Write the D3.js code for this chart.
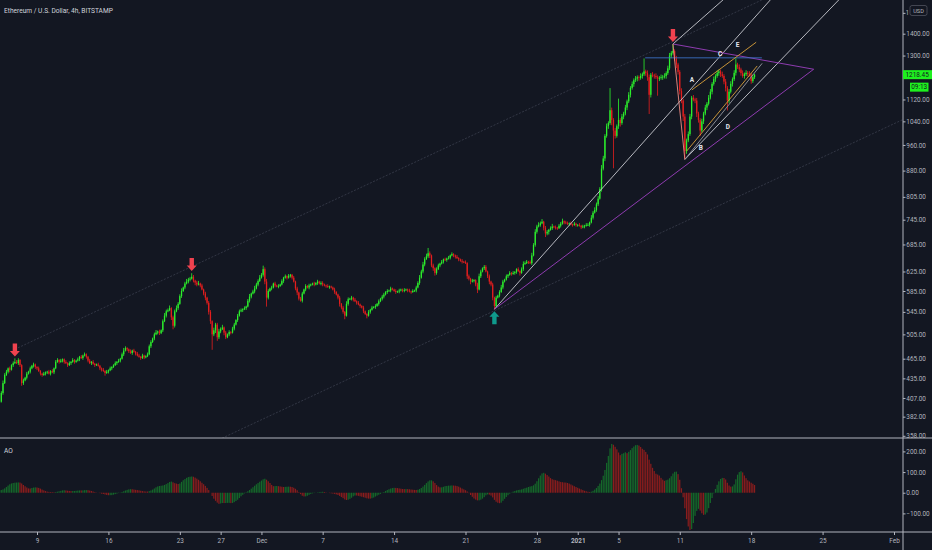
<!DOCTYPE html>
<html>
<head>
<meta charset="utf-8">
<script src="https://cdn.jsdelivr.net/npm/d3@7"></script>
<style>
html, body { margin: 0; padding: 0; background: #131722; }
svg { display: block; }
text { font-family: Roboto, "Noto Sans", sans-serif; }
</style>
</head>
<body>
<svg id="chart" width="932" height="550"></svg>
<script>
// ETH/USD 4h candles, Bitstamp. First candle opens 2020-10-30 12:00 UTC (the first
// 35 are warm-up for the AO and sit left of the visible area). One row per day.
const firstOpen = 381;
const closes = [
  382,384,386,
  388,386,384,387,385,386,
  388,392,395,394,396,396,
  398,394,388,382,384,383,
  387,385,380,378,383,386,
  388,384,390,395,400,402,
  404,401,402,414,428,440,
  445,450,448,455,458,460,
  458,463,455,428,432,436,
  442,445,450,454,456,452,
  450,446,442,440,442,444,
  445,442,446,444,450,460,
  463,460,462,464,460,458,
  455,458,460,463,460,462,
  464,468,466,470,472,468,
  462,458,460,457,455,456,
  454,450,448,446,443,445,
  447,450,452,455,458,460,
  462,465,472,478,482,480,
  477,474,478,476,473,470,
  468,466,470,467,469,472,
  485,492,498,505,508,510,
  507,512,528,538,546,548,
  552,535,520,546,552,560,
  575,585,592,600,604,608,
  610,614,606,602,598,600,
  596,588,580,572,562,545,
  528,505,512,522,500,510,
  514,517,508,500,505,509,
  508,515,522,530,538,546,
  548,550,552,555,566,574,
  580,584,590,598,605,612,
  618,630,604,572,585,590,
  592,600,596,594,595,598,
  605,612,615,612,616,618,
  612,604,590,582,570,566,
  580,588,595,592,596,598,
  600,598,601,604,600,601,
  598,596,595,593,594,592,
  588,583,578,572,560,553,
  545,538,560,569,570,572,
  568,565,562,559,556,553,
  546,541,538,545,549,553,
  554,556,560,565,570,574,
  578,583,585,586,590,588,
  585,583,584,586,588,586,
  587,588,586,584,583,585,
  586,592,601,612,625,640,
  652,658,665,660,638,632,
  622,630,638,642,646,651,
  650,653,655,660,663,660,
  657,654,651,648,646,645,
  643,615,610,604,606,607,
  598,588,615,625,632,635,
  625,615,604,598,572,556,
  572,576,583,592,604,608,
  615,618,622,620,622,624,
  630,626,622,630,641,643,
  646,645,643,660,684,715,
  728,732,736,740,725,711,
  715,720,724,728,726,725,
  724,730,735,741,738,736,
  734,736,733,732,735,732,
  732,730,726,728,730,732,
  732,738,750,763,770,785,
  800,827,886,917,990,1023,
  1034,1080,1045,1008,990,1023,
  1045,1034,1057,1068,1090,1113,
  1138,1165,1180,1196,1202,1208,
  1205,1213,1220,1232,1225,1208,
  1138,1218,1215,1213,1208,1203,
  1205,1208,1210,1213,1225,1245,
  1300,1312,1320,1287,1261,1230,
  1153,1116,1057,940,975,996,
  1057,1127,1120,1116,1068,1045,
  1008,1040,1068,1090,1104,1127,
  1150,1181,1200,1213,1225,1232,
  1220,1213,1190,1165,1116,1150,
  1181,1200,1226,1261,1250,1240,
  1225,1213,1220,1226,1222,1218,
  1192,1208,1218.45
];
// wick lengths beyond the body, in steps of 0.3 %
const wickUp = [
  1,2,1,
  2,1,1,2,1,1, 1,2,1,2,1,1, 2,1,1,2,1,2, 1,2,1,1,2,1, 2,1,2,1,2,1,
  1,2,1,2,3,2, 2,1,2,1,2,4, 2,2,1,1,2,1, 2,1,2,1,2,1, 1,2,1,1,2,1,
  1,2,1,2,1,2, 2,1,2,1,1,2, 1,2,1,2,1,1, 2,1,2,1,2,1, 1,2,1,2,1,1,
  2,1,1,2,1,2, 1,2,1,1,2,1, 2,1,2,3,2,1, 1,2,1,2,1,2, 2,1,2,1,1,2,
  2,2,1,2,3,1, 2,1,2,3,2,2, 3,1,2,2,3,2, 2,3,1,2,3,2, 2,4,2,1,2,3,
  1,2,1,2,1,2, 2,1,3,2,2,3, 2,3,1,2,1,2, 1,2,2,1,2,2, 2,1,2,1,2,3,
  1,2,3,2,2,3, 2,4,2,3,2,1, 2,1,2,1,2,1, 2,1,2,1,2,1, 1,2,1,2,1,2,
  2,1,2,1,2,1, 1,2,1,2,1,2, 2,1,1,2,1,1, 1,2,1,1,2,1, 2,1,3,2,1,2,
  1,2,1,2,1,1, 2,1,1,2,1,2, 1,2,1,2,1,2, 2,1,2,1,2,1, 1,2,1,2,1,1,
  2,1,1,2,1,2, 1,2,2,3,2,3, 2,3,6,2,1,2, 1,2,2,1,2,1, 2,1,2,1,2,1,
  1,2,1,1,2,1, 2,1,2,1,2,1, 1,2,3,2,1,2, 2,1,2,1,2,1, 2,1,2,3,2,1,
  2,1,2,1,2,1, 1,2,1,2,3,2, 2,1,2,3,2,3, 2,3,2,3,1,2, 2,1,2,3,1,2,
  1,2,2,3,1,2, 2,1,2,1,2,1, 1,2,1,2,1,2, 2,1,3,2,3,2, 3,2,4,3,2,3,
  2,26,3,2,3,2, 25,2,3,2,3,2, 3,2,3,2,3,2, 2,3,2,15,2,3, 3,2,3,2,3,2,
  2,3,2,3,2,3, 3,2,8,2,3,2, 2,3,2,3,2,3, 3,2,3,2,3,2, 2,3,2,3,2,3,
  3,2,3,2,3,2, 2,3,2,3,2,3, 3,2,3,7,2,3, 2,3,2,3,2,3,
  2,3,1
];
const wickDn = [
  1,1,2,
  1,2,1,1,2,1, 2,1,1,2,1,1, 1,2,2,1,1,2, 2,1,2,1,1,2, 1,2,1,2,1,1,
  2,1,2,1,2,1, 1,2,3,1,2,1, 1,2,2,3,2,1, 2,1,2,1,2,2, 2,1,2,2,1,2,
  2,1,2,1,2,1, 1,2,1,2,2,1, 2,1,2,1,2,1, 1,2,1,2,1,2, 2,1,2,1,2,1,
  1,2,2,1,3,1, 2,1,2,1,1,2, 1,2,1,2,1,2, 2,1,2,1,2,1, 1,2,1,2,1,1,
  1,2,1,2,1,2, 2,1,2,1,2,1, 1,3,4,2,1,2, 1,2,1,2,1,2, 2,1,2,3,2,1,
  2,1,2,3,2,3, 3,17,2,3,4,2, 2,1,3,2,1,2, 2,1,2,1,2,1, 1,2,1,2,1,2,
  2,1,2,1,2,1, 1,2,3,10,2,1, 2,1,2,1,2,1, 1,2,1,2,1,2, 2,1,2,3,2,1,
  2,1,2,1,2,1, 1,2,1,2,1,2, 2,1,2,1,2,1, 1,2,1,2,3,2, 2,4,1,2,1,2,
  2,1,2,1,2,1, 2,1,3,1,2,1, 1,2,1,2,1,2, 2,1,2,1,2,1, 1,2,1,2,1,2,
  2,1,2,1,2,1, 1,2,1,2,1,2, 2,1,2,3,2,3, 3,2,1,2,1,2, 1,2,1,2,1,2,
  2,1,2,1,2,1, 1,3,2,3,1,2, 2,4,1,2,1,2, 1,2,3,2,3,4, 2,1,2,1,2,1,
  1,2,1,2,1,2, 2,1,3,1,2,1, 1,2,1,2,1,2, 2,1,2,1,3,4, 2,3,1,2,1,2,
  2,1,2,1,2,1, 1,2,1,2,1,2, 2,1,2,1,2,1, 1,2,1,2,1,2, 2,1,3,2,3,2,
  3,2,6,40,3,2, 3,4,2,3,2,3, 2,3,2,3,2,3, 3,2,3,2,3,4, 21,3,2,3,2,19,
  3,2,3,2,3,2, 2,3,2,3,4,3, 4,3,5,9,3,2, 2,3,2,3,4,3, 6,2,3,2,3,2,
  2,3,2,3,2,3, 3,2,3,4,11,3, 2,3,2,3,2,3, 3,2,3,2,3,2,
  3,2,2
];

// 1500 sits under the currency button, only its first digit shows
const priceTicks = [1400, 1300, 1120, 1040, 960, 880, 805, 745, 685, 625, 585, 545, 505, 465, 435, 407, 382, 358];
const aoTicks = [200, 100, 0, -100];
const dateTicks = ["2020-11-09", "2020-11-16", "2020-11-23", "2020-11-27", "2020-12-01", "2020-12-07",
  "2020-12-14", "2020-12-21", "2020-12-28", "2021-01-01", "2021-01-05", "2021-01-11", "2021-01-18",
  "2021-01-25", "2021-02-01"];
const dateLabels = ["9", "16", "23", "27", "Dec", "7", "14", "21", "28", "2021", "5", "11", "18", "25", "Feb"];

// drawings: [time, price] anchors
const trendLines = [
  { from: ["2020-11-07T03:17Z", 482.5], to: ["2021-01-18T09:22Z", 1553], color: "#363a48", dash: "2,1.5", ext: "right" },
  { from: ["2020-12-04T18:45Z", 401.9], to: ["2021-02-02T10:00Z", 1055.6], color: "#363a48", dash: "2,1.5", ext: "both" },
  { from: ["2020-12-23T20:00Z", 550], to: ["2021-01-19T20:40Z", 1569], color: "#c9cbd1", ext: "right" },
  { from: ["2021-01-10T08:00Z", 1352], to: ["2021-01-15T05:15Z", 1569], color: "#c9cbd1", ext: "right" },
  { from: ["2021-01-11T12:00Z", 914], to: ["2021-01-26T13:40Z", 1569], color: "#c9cbd1", ext: "right" },
  { from: ["2020-12-23T20:00Z", 550], to: ["2021-01-24T03:00Z", 1241], color: "#9c3fbf" },
  { from: ["2021-01-10T08:00Z", 1352], to: ["2021-01-24T03:00Z", 1241], color: "#9c3fbf" },
  { from: ["2021-01-07T14:40Z", 1290], to: ["2021-01-19T01:10Z", 1290], color: "#3b6fc4" },
  { from: ["2021-01-10T08:00Z", 1352], to: ["2021-01-11T12:00Z", 914], color: "#f28b82" },
  { from: ["2021-01-12T04:30Z", 1157], to: ["2021-01-18T11:45Z", 1360], color: "#d9a03a" },
  { from: ["2021-01-11T16:48Z", 941], to: ["2021-01-18T14:10Z", 1255], color: "#d9a03a" },
  { from: ["2021-01-11T12:00Z", 914], to: ["2021-01-19T01:50Z", 1266], color: "#9598a1" }
];
const waveLabels = [
  ["A", "2021-01-12T04:30Z", 1197], ["B", "2021-01-13T01:40Z", 950], ["C", "2021-01-14T23:00Z", 1306],
  ["D", "2021-01-15T17:15Z", 1020], ["E", "2021-01-16T15:50Z", 1346]
];
const arrowsDown = [["2020-11-06T20:00Z", 465.5], ["2020-11-24T04:00Z", 622], ["2021-01-10T08:00Z", 1352]];
const arrowsUp = [["2020-12-23T20:00Z", 550]];

const lastPrice = 1218.45;
const countdown = "09:13";

const W = 932, H = 550, axisX = 903, mainBottom = 438, aoBottom = 532;
const upColor = "#2cf02c", downColor = "#e41e1e";
const aoUp = "#15682a", aoDown = "#8a1d1d";
const textColor = "#b2b5be", lineColor = "#b2b5be";

const t0 = Date.UTC(2020, 9, 30, 12);
const step = 4 * 3600e3;
let prev = firstOpen;
const candles = closes.map((c, i) => {
  const o = prev;
  prev = c;
  return {
    t: new Date(t0 + i * step), o, c,
    hi: Math.max(o, c) * (1 + wickUp[i] * 0.003),
    lo: Math.min(o, c) * (1 - wickDn[i] * 0.003)
  };
});

// Awesome Oscillator: SMA5(hl2) - SMA34(hl2)
const hl2 = candles.map(d => (d.hi + d.lo) / 2);
const ao = hl2.map((_, i) => i < 33 ? null : d3.mean(hl2.slice(i - 4, i + 1)) - d3.mean(hl2.slice(i - 33, i + 1)));
const aoData = candles.map((d, i) => ({ t: d.t, v: ao[i], up: i > 0 && ao[i - 1] != null && ao[i] >= ao[i - 1] }))
  .filter(d => d.v != null);

const x = d3.scaleUtc().domain([new Date(Date.UTC(2020, 10, 9)), new Date(Date.UTC(2021, 1, 1))]).range([37, 894]);
const y = d3.scaleLog().domain([358, 1400]).range([435.8, 33.7]);
const aoY = d3.scaleLinear().domain([-100, 200]).range([513.4, 451.4]);

const svg = d3.select("#chart");
svg.append("rect").attr("width", W).attr("height", H).attr("fill", "#131722");

const defs = svg.append("defs");
defs.append("clipPath").attr("id", "clipMain").append("rect").attr("width", axisX).attr("height", mainBottom);
defs.append("clipPath").attr("id", "clipAO").append("rect").attr("y", mainBottom + 1).attr("width", axisX).attr("height", aoBottom - mainBottom - 1);

// candles
const gC = svg.append("g").attr("clip-path", "url(#clipMain)");
gC.selectAll("rect.wick").data(candles).join("rect")
  .attr("class", "wick")
  .attr("x", d => x(d.t) - 0.4).attr("width", 0.8)
  .attr("y", d => y(d.hi)).attr("height", d => Math.max(0.5, y(d.lo) - y(d.hi)))
  .attr("fill", d => d.c >= d.o ? upColor : downColor);
gC.selectAll("rect.body").data(candles).join("rect")
  .attr("class", "body")
  .attr("x", d => x(d.t) - 0.65).attr("width", 1.3)
  .attr("y", d => y(Math.max(d.o, d.c))).attr("height", d => Math.max(0.8, y(Math.min(d.o, d.c)) - y(Math.max(d.o, d.c))))
  .attr("fill", d => d.c >= d.o ? upColor : downColor);

// drawings
const pt = a => [x(new Date(a[0])), y(a[1])];
const gD = svg.append("g").attr("clip-path", "url(#clipMain)");
trendLines.forEach(l => {
  let [x1, y1] = pt(l.from), [x2, y2] = pt(l.to);
  const dx = x2 - x1, dy = y2 - y1;
  if (l.ext === "both") { x1 -= dx * 20; y1 -= dy * 20; }
  if (l.ext) { x2 += dx * 20; y2 += dy * 20; }
  gD.append("line")
    .attr("x1", x1).attr("y1", y1).attr("x2", x2).attr("y2", y2)
    .attr("stroke", l.color).attr("stroke-width", 0.9)
    .attr("stroke-dasharray", l.dash || null);
});

gD.selectAll("text.wave").data(waveLabels).join("text")
  .attr("x", d => x(new Date(d[1]))).attr("y", d => y(d[2]))
  .attr("text-anchor", "middle").attr("dominant-baseline", "central")
  .attr("fill", "#e6e8ee").attr("font-size", 6.5).attr("font-weight", "bold")
  .text(d => d[0]);

const arrowPath = "M0,0 L-5,-5.5 L-2.2,-5.5 L-2.2,-13 L2.2,-13 L2.2,-5.5 L5,-5.5 Z";
gD.selectAll("path.down").data(arrowsDown).join("path")
  .attr("d", arrowPath).attr("fill", "#f0424f")
  .attr("transform", d => `translate(${x(new Date(d[0]))},${y(d[1]) - 2})`);
gD.selectAll("path.up").data(arrowsUp).join("path")
  .attr("d", arrowPath).attr("fill", "#0f9a8c")
  .attr("transform", d => `translate(${x(new Date(d[0]))},${y(d[1]) + 2}) scale(1,-1)`);

// AO histogram
const gA = svg.append("g").attr("clip-path", "url(#clipAO)");
gA.selectAll("rect").data(aoData).join("rect")
  .attr("x", d => x(d.t) - 0.6).attr("width", 1.2)
  .attr("y", d => Math.min(aoY(d.v), aoY(0))).attr("height", d => Math.abs(aoY(d.v) - aoY(0)))
  .attr("fill", d => d.up ? aoUp : aoDown);

// panel borders
svg.append("line").attr("x1", 0).attr("x2", W).attr("y1", mainBottom).attr("y2", mainBottom).attr("stroke", lineColor);
svg.append("line").attr("x1", 0).attr("x2", W).attr("y1", aoBottom).attr("y2", aoBottom).attr("stroke", lineColor);
svg.append("line").attr("x1", axisX).attr("x2", axisX).attr("y1", 0).attr("y2", H).attr("stroke", lineColor);

// axes
const styleAxis = g => {
  g.select(".domain").remove();
  g.selectAll("line").attr("stroke", lineColor);
  g.selectAll("text").attr("fill", textColor).attr("font-size", 6.4).attr("font-family", "Roboto, sans-serif");
};
svg.append("g").attr("transform", `translate(${axisX},0)`)
  .call(d3.axisRight(y).tickValues(priceTicks).tickSize(2.5).tickPadding(0.8).tickFormat(d3.format(".2f")))
  .call(styleAxis).selectAll("text").attr("text-anchor", "start");
svg.append("g").attr("transform", `translate(${axisX},0)`)
  .call(d3.axisRight(aoY).tickValues(aoTicks).tickSize(2.5).tickPadding(0.8)
    .tickFormat(v => (v < 0 ? "\u2212" : "") + Math.abs(v).toFixed(2)))
  .call(styleAxis);
svg.append("g").attr("transform", `translate(0,${aoBottom})`)
  .call(d3.axisBottom(x).tickValues(dateTicks.map(s => new Date(s + "T00:00Z"))).tickSize(3).tickPadding(3.5)
    .tickFormat((d, i) => dateLabels[i]))
  .call(styleAxis)
  .selectAll("text").attr("font-weight", (d, i) => dateLabels[i] === "2021" ? "bold" : null);

// the visible bit of the hidden 1500 label, then the currency button
const y1500 = y(1500);
svg.append("line").attr("x1", axisX).attr("x2", axisX + 2.5).attr("y1", y1500).attr("y2", y1500).attr("stroke", lineColor);
svg.append("text").attr("x", 905.5).attr("y", y1500).attr("dominant-baseline", "central")
  .attr("fill", textColor).attr("font-size", 6.4).text("1");
svg.append("rect").attr("x", 910).attr("y", 5.5).attr("width", 17).attr("height", 10).attr("rx", 2)
  .attr("fill", "#131722").attr("stroke", "#50535e").attr("stroke-width", 0.8);
svg.append("text").attr("x", 918.5).attr("y", 10.6).attr("text-anchor", "middle").attr("dominant-baseline", "central")
  .attr("fill", textColor).attr("font-size", 5.6).text("USD");

// last price label + countdown
const yl = y(lastPrice);
svg.append("rect").attr("x", axisX).attr("y", yl - 4.5).attr("width", W - axisX).attr("height", 9).attr("fill", "#1ef01e");
svg.append("text").attr("x", 905.5).attr("y", yl).attr("dominant-baseline", "central")
  .attr("fill", "#131722").attr("font-size", 6.4).text(lastPrice.toFixed(2));
svg.append("rect").attr("x", 910).attr("y", yl + 8).attr("width", 18.5).attr("height", 9).attr("fill", "#1ef01e");
svg.append("text").attr("x", 919.2).attr("y", yl + 12.5).attr("text-anchor", "middle").attr("dominant-baseline", "central")
  .attr("fill", "#131722").attr("font-size", 6.4).text(countdown);

// titles
svg.append("text").attr("x", 4).attr("y", 13.3).attr("fill", "#d1d4dc").attr("font-size", 6.6)
  .text("Ethereum / U.S. Dollar, 4h, BITSTAMP");
svg.append("text").attr("x", 4).attr("y", 452.5).attr("fill", "#d1d4dc").attr("font-size", 6.6).text("AO");
</script>
</body>
</html>
